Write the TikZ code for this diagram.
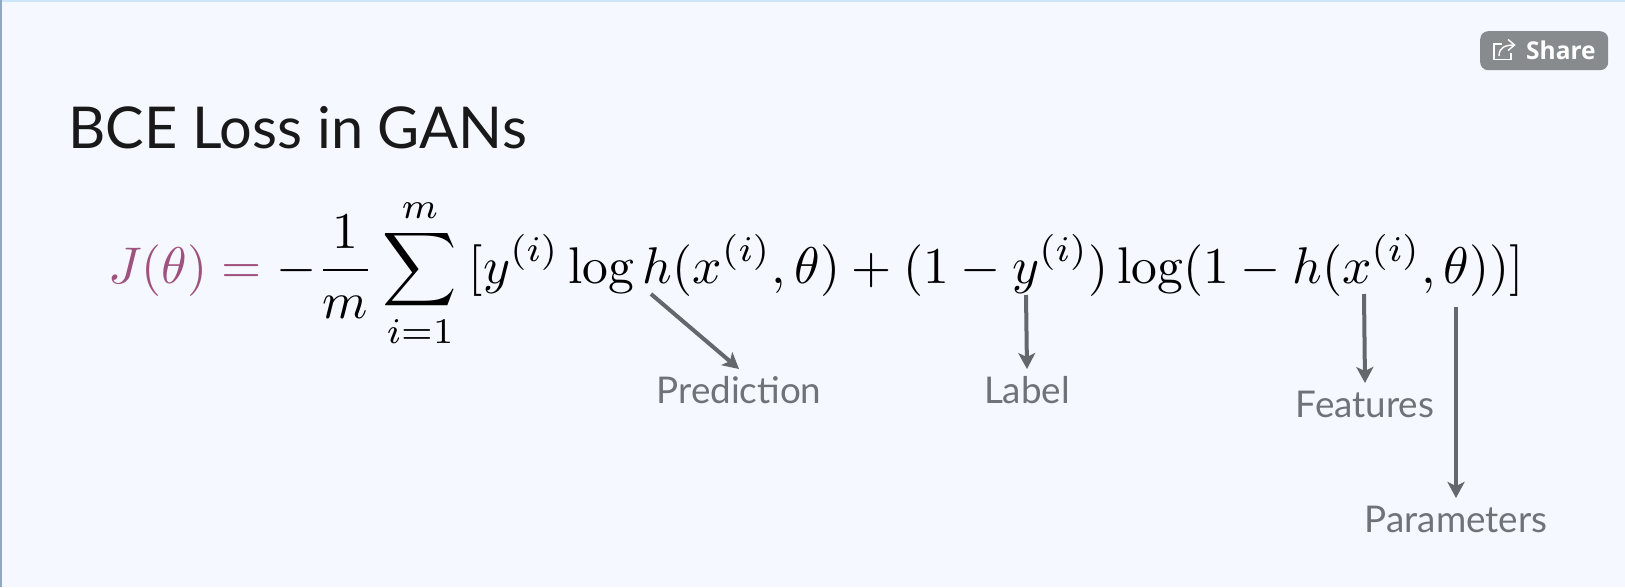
\documentclass[tikz,border=0pt]{standalone}
\usepackage{fontspec}
\usepackage{amsmath}
\usepackage{xcolor}
\usepackage{graphicx}
\usetikzlibrary{arrows.meta}
\newfontfamily\latofont{Lato}
\newfontfamily\osfont{Open Sans}
\definecolor{bgc}{HTML}{F5F9FF}
\definecolor{edgec}{HTML}{8FA9C0}
\definecolor{topc}{HTML}{CFE6F8}
\definecolor{arrc}{HTML}{64676C}
\definecolor{labc}{HTML}{6F7277}
\definecolor{btnc}{HTML}{888B8E}
\definecolor{jc}{HTML}{A0527F}
\tikzset{
 pointer/.style={draw=arrc,line width=4pt,-{Stealth[length=16pt,width=17pt,inset=4pt]}},
 lab/.style={anchor=base,inner sep=0pt,outer sep=0pt,text height=34pt,text=labc,font=\latofont\fontsize{36.8}{40}\selectfont},
 title/.style={anchor=base west,inner sep=0pt,font=\latofont\fontsize{57.7}{66}\selectfont,text=black!90},
 formula/.style={anchor=base west,inner sep=0pt},
 btn/.style={fill=btnc,rounded corners=8pt,minimum width=128pt,minimum height=39pt,inner sep=0pt,anchor=north west},
 btntext/.style={anchor=base west,inner sep=0pt,text=white,font=\osfont\bfseries\fontsize{24.5}{30}\selectfont},
 icon/.style={draw=white,line width=1.4pt}
}
\begin{document}
\begin{tikzpicture}[x=1pt,y=-1pt]
\useasboundingbox (0,0) rectangle (1625,587);
\fill[bgc] (0,0) rectangle (1625,587);
\fill[topc] (0,0) rectangle (1625,1.5);
\fill[edgec] (0,0) rectangle (1.5,587);
\node[title] (ttl) at (68,148) {BCE Loss in GANs};
\node[formula] (eq) at (108,283) {\scalebox{5.16}{$\displaystyle \textcolor{jc}{J(\theta) =}\mkern5mu {-}\frac{1}{m}\sum_{i=1}^{m}\mkern4mu[y^{(i)}\log h(x^{(i)},\theta)+(1-y^{(i)})\log(1-h(x^{(i)},\theta))]$}};
\coordinate (s1) at (651,294);
\coordinate (s2) at (1026,295);
\coordinate (s3) at (1364,294);
\coordinate (s4) at (1456,307);
\node[lab] (pred) at (739,403) {Prediction};
\node[lab] (label) at (1027,403) {Label};
\node[lab] (feat) at (1365,417) {Features};
\node[lab] (param) at (1456,532) {Parameters};
\draw[pointer] (s1) -- (pred.north);
\draw[pointer] (s2) -- (label.north);
\draw[pointer] (s3) -- (feat.north);
\draw[pointer] (s4) -- (param.north);
\node[btn] (share) at (1480,31) {};
\node[btntext] (sharetext) at (1526,59) {Share};
\draw[icon] (1502,44) -- (1494,44) -- (1494,59.5) -- (1511,59.5) -- (1511,53);
\draw[icon] (1499,56) .. controls (1499,47) and (1506,45) .. (1514,45);
\draw[icon] (1508,39.5) -- (1514.5,45) -- (1508,50.5);
\end{tikzpicture}
\end{document}
